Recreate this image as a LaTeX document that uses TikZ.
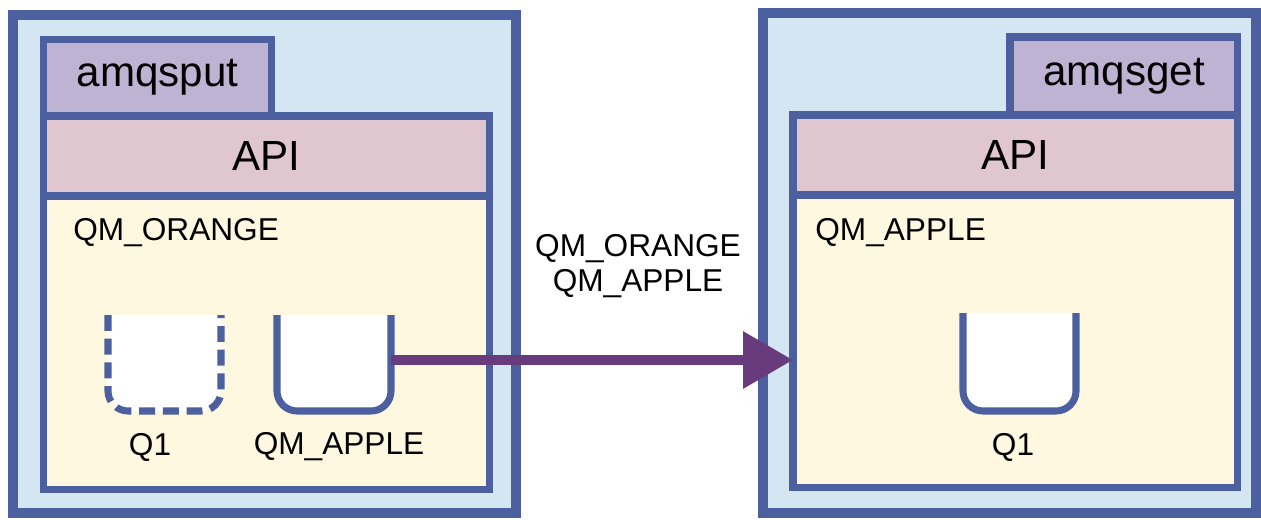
\documentclass[tikz,border=0pt]{standalone}
\usepackage{fontspec}
\setmainfont{Liberation Sans}
\definecolor{mqblue}{RGB}{76,96,160}
\definecolor{mqsky}{RGB}{211,230,242}
\definecolor{mqlilac}{RGB}{191,179,212}
\definecolor{mqpink}{RGB}{224,198,206}
\definecolor{mqcream}{RGB}{255,248,224}
\definecolor{mqplum}{RGB}{103,59,124}
\newcommand{\mqbig}{\fontsize{24}{28}\selectfont}
\newcommand{\mqsmall}{\fontsize{18}{19.5}\selectfont}
\usetikzlibrary{arrows.meta,positioning}

\begin{document}
\begin{tikzpicture}[x=0.02cm,y=-0.02cm,
  hostbox/.style={draw=mqblue,fill=mqsky,line width=5.7pt,anchor=north west,
    outer sep=0pt,inner sep=0pt},
  layerbox/.style={draw=mqblue,line width=4pt,anchor=north west,outer sep=0pt,
    inner sep=0pt,font=\mqbig},
  queue/.style={draw=mqblue,fill=white,line width=4pt,rounded corners=0.4cm},
  txt/.style={font=\mqsmall,inner sep=0pt}]
  \useasboundingbox (0,0) rectangle (1261,520);
  % Left host: amqsput on QM_ORANGE
  \node[hostbox,minimum width=10.06cm,minimum height=9.96cm] (lhost) at (13,15) {};
  \node[layerbox,fill=mqlilac,minimum width=4.57cm,minimum height=1.53cm] (put) at (43.5,39.5) {amqsput};
  \node[layerbox,fill=mqpink,minimum width=8.93cm,minimum height=1.6cm] (lapi) at (43.5,116) {API};
  \node[layerbox,fill=mqcream,minimum width=8.93cm,minimum height=5.88cm] (lqm) at (43.5,196) {};
  \node[txt,anchor=west] (lqmname) at (73,233) {QM\_ORANGE};
  % Left queues
  \draw[queue,dash pattern=on 9pt off 4.5pt] (108,315) -- (108,411) -- (221,411) -- (221,315);
  \draw[queue] (277,315) -- (277,411) -- (391,411) -- (391,315);
  \coordinate (xmitq) at (391,360);
  \node[txt] (lq1) at (150,447) {Q1};
  \node[txt] (lxmit) at (339,447) {QM\_APPLE};
  % Right host: amqsget on QM_APPLE
  \node[hostbox,minimum width=9.86cm,minimum height=10cm] (rhost) at (763,13) {};
  \node[layerbox,fill=mqlilac,minimum width=4.56cm,minimum height=1.56cm] (get) at (1010,37) {amqsget};
  \node[layerbox,fill=mqpink,minimum width=8.9cm,minimum height=1.6cm] (rapi) at (793,115) {API};
  \node[layerbox,fill=mqcream,minimum width=8.9cm,minimum height=5.86cm] (rqm) at (793,195) {};
  \node[txt,anchor=west] (rqmname) at (815,233) {QM\_APPLE};
  \draw[queue] (963,313) -- (963,411) -- (1076,411) -- (1076,313);
  \node[txt] (rq1) at (1013,447) {Q1};
  % Channel
  \node[txt,align=center] (chl) at (638,266) {QM\_ORANGE\\QM\_APPLE};
  \draw[-{Triangle[length=1cm,width=1.1cm]},line width=5.7pt,mqplum] (xmitq) -- (xmitq -| rqm.west);
\end{tikzpicture}
\end{document}
